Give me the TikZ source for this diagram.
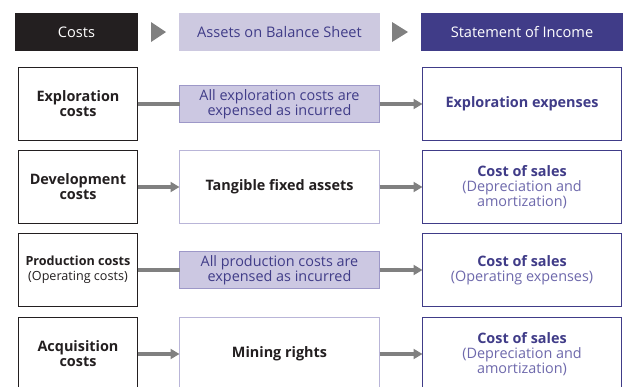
\documentclass[tikz,border=0pt]{standalone}
\usepackage{fontspec}
\setmainfont{Open Sans}
\usetikzlibrary{arrows.meta}
\definecolor{hdrblack}{HTML}{231F20}
\definecolor{hdrlight}{HTML}{CDC9E0}
\definecolor{hdrdark}{HTML}{403C88}
\definecolor{purtext}{HTML}{403C88}
\definecolor{purlight}{HTML}{6E69AC}
\definecolor{midfill}{HTML}{CCC8E2}
\definecolor{midborder}{HTML}{9D98C8}
\definecolor{wborder}{HTML}{B9B5D8}
\definecolor{arrowgray}{HTML}{808080}
\begin{document}
\begin{tikzpicture}[x=1pt,y=-1pt,
  every node/.style={inner sep=0pt,outer sep=0pt,align=center,font=\fontsize{14.4}{15}\selectfont},
  hdr/.style={minimum height=38pt,font=\fontsize{14.6}{15}\selectfont},
  leftbox/.style={draw=hdrblack,line width=1.6pt,fill=white,minimum width=119pt,minimum height=73pt,text=hdrblack},
  midfillbox/.style={draw=midborder,line width=1.2pt,fill=midfill,minimum width=200pt,minimum height=37pt,text=purtext},
  midwbox/.style={draw=wborder,line width=1.2pt,fill=white,minimum width=200pt,minimum height=73pt,text=hdrblack},
  rightbox/.style={draw=hdrdark,line width=1.6pt,fill=white,minimum width=199pt,minimum height=73pt,text=purtext},
  tri/.style={fill=arrowgray},
  conn/.style={draw=arrowgray,line width=3.6pt},
  conna/.style={conn,-{Triangle[length=9pt,width=10pt]}},
]
\useasboundingbox (0,0) rectangle (624,386);
\clip (0,0) rectangle (624,386);
% headers
\node[hdr,fill=hdrblack,text=white,minimum width=123pt] (h1) at (76.5,32) {Costs};
\node[hdr,fill=hdrlight,text=purtext,minimum width=201pt] (h2) at (279.5,32) {Assets on Balance Sheet};
\node[hdr,fill=hdrdark,text=white,minimum width=202pt] (h3) at (522,32) {Statement of Income};
\fill[tri] (151,22) -- (166,32) -- (151,42) -- cycle;
\fill[tri] (392,22) -- (408,32) -- (392,42) -- cycle;
% row 1
\node[leftbox] (l1) at (78,104) {\bfseries Exploration\\\bfseries costs};
\node[midfillbox] (m1) at (279.5,104) {All exploration costs are\\expensed as incurred};
\node[rightbox] (r1) at (522,104) {\bfseries Exploration expenses};
% row 2
\node[leftbox] (l2) at (78,187) {\bfseries Development\\\bfseries costs};
\node[midwbox] (m2) at (279.5,187) {\bfseries Tangible fixed assets};
\node[rightbox] (r2) at (522,187) {\bfseries Cost of sales\\{\color{purlight}(Depreciation and}\\{\color{purlight}amortization)}};
% row 3
\node[leftbox,font=\fontsize{12.6}{15}\selectfont] (l3) at (78,270) {\bfseries Production costs\\(Operating costs)};
\node[midfillbox] (m3) at (279.5,270) {All production costs are\\expensed as incurred};
\node[rightbox] (r3) at (522,270) {\bfseries Cost of sales\\{\color{purlight}(Operating expenses)}};
% row 4
\node[leftbox] (l4) at (78,354) {\bfseries Acquisition\\\bfseries costs};
\node[midwbox] (m4) at (279.5,354) {\bfseries Mining rights};
\node[rightbox] (r4) at (522,354) {\bfseries Cost of sales\\{\color{purlight}(Depreciation and}\\{\color{purlight}amortization)}};
% connectors
\draw[conn] (l1.east) -- (m1.west);
\draw[conna] (m1.east) -- (r1.west);
\draw[conna] (l2.east) -- (m2.west);
\draw[conna] (m2.east) -- (r2.west);
\draw[conn] (l3.east) -- (m3.west);
\draw[conna] (m3.east) -- (r3.west);
\draw[conna] (l4.east) -- (m4.west);
\draw[conna] (m4.east) -- (r4.west);
\end{tikzpicture}
\end{document}
